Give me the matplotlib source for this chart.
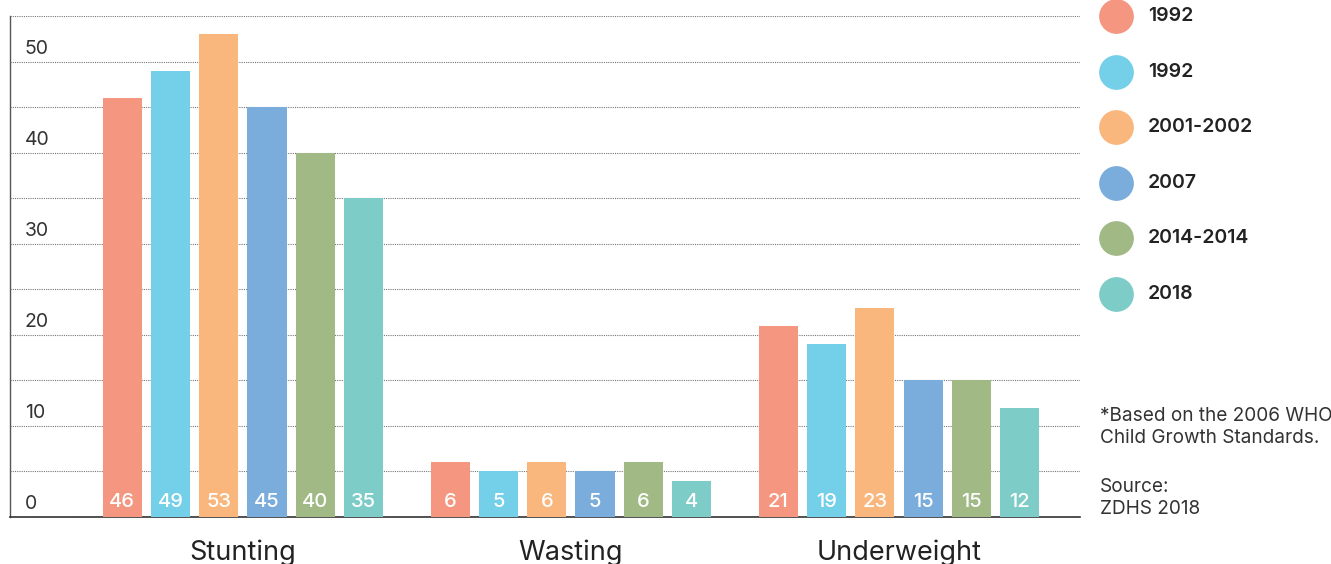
import matplotlib
matplotlib.use("Agg")
import matplotlib.pyplot as plt
import matplotlib.transforms as mtransforms

plt.rcParams['font.family'] = ['Inter', 'DejaVu Sans']

# Daten
categories = ["Stunting", "Wasting", "Underweight"]
series_labels = ["1992", "1992", "2001-2002", "2007", "2014-2014", "2018"]
values = [
    [46, 6, 21],
    [49, 5, 19],
    [53, 6, 23],
    [45, 5, 15],
    [40, 6, 15],
    [35, 4, 12],
]
colors = ["#F59680", "#74CFE8", "#F9B67D", "#7AADDC", "#A0B985", "#7DCCC7"]
ytick_values = [0, 10, 20, 30, 40, 50]
footnote = "*Based on the 2006 WHO\nChild Growth Standards."
source = "Source:\nZDHS 2018"

fig = plt.figure(figsize=(13.31, 5.64), dpi=100)
ax = fig.add_axes([0.0075, 0.0833, 0.8039, 0.8883])

step = 0.147
width = 0.119
n = len(series_labels)
for i, (lab, vals, c) in enumerate(zip(series_labels, values, colors)):
    xs = [g + (i - (n - 1) / 2) * step for g in range(len(categories))]
    ax.bar(xs, vals, width=width, color=c, zorder=3, label=lab)
    for x, v in zip(xs, vals):
        ax.text(x, 1.6, str(v), ha="center", va="center", color="white",
                fontsize=14.5, fontweight="medium", zorder=4)

ax.set_xlim(-0.71, 2.552)
ax.set_ylim(0, 55)

# Gitterlinien alle 5 Einheiten
ax.set_yticks(range(0, 56, 5))
ax.set_yticklabels([])
ax.tick_params(axis="y", length=0)
ax.grid(axis="y", color="#777777", linestyle=(0, (1, 1)), linewidth=0.8, zorder=0)

# Achsenbeschriftung oberhalb der Linien
trans = mtransforms.blended_transform_factory(ax.transAxes, ax.transData)
for v in ytick_values:
    ax.text(0.014, v + 0.4, str(v), transform=trans, ha="left", va="bottom",
            fontsize=14, color="#333333")

ax.set_xticks(range(len(categories)))
ax.set_xticklabels(categories, fontsize=19.5, color="#222222")
ax.tick_params(axis="x", length=0, pad=16)

for s in ["top", "right"]:
    ax.spines[s].set_visible(False)
ax.spines["left"].set_color("#555555")
ax.spines["bottom"].set_color("#333333")
ax.spines["left"].set_linewidth(1.0)
ax.spines["bottom"].set_linewidth(1.2)

# Legende
W, H = 1331, 564
for i, (lab, c) in enumerate(zip(series_labels, colors)):
    y = 1 - (16 + i * 55.6) / H
    fig.lines.append(plt.Line2D([1116 / W], [y], marker="o", markersize=24,
                                color=c, transform=fig.transFigure, linestyle=""))
    fig.text(1148 / W, y, lab, ha="left", va="center", fontsize=14,
             fontweight="semibold", color="#222222")

fig.text(1100 / W, 1 - 407 / H, footnote, ha="left", va="top", fontsize=13.7,
         color="#333333", linespacing=1.3)
fig.text(1100 / W, 1 - 478 / H, source, ha="left", va="top", fontsize=13.7,
         color="#333333", linespacing=1.3)

fig.savefig("out.png", dpi=100)
